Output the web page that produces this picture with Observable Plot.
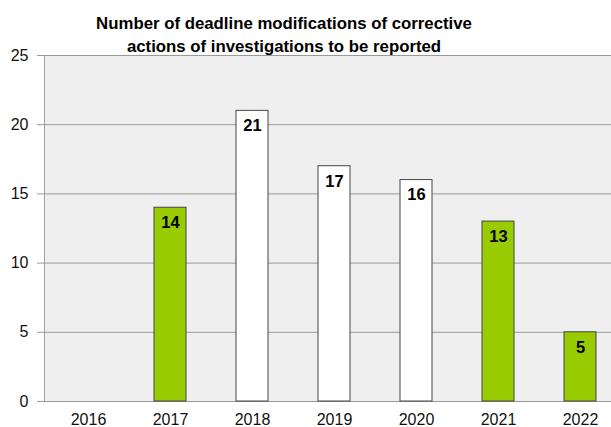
<!DOCTYPE html>
<html>
<head>
<meta charset="utf-8">
<script src="https://cdn.jsdelivr.net/npm/d3@7"></script>
<script src="https://cdn.jsdelivr.net/npm/@observablehq/plot@0.6"></script>
<style>
  html, body { margin: 0; padding: 0; background: #fff; overflow: hidden; }
  #wrap { position: relative; width: 611px; height: 427px; }
  #title {
    position: absolute; top: 12px; left: 0; width: 568px;
    text-align: center; font-family: "Liberation Sans", Arial, sans-serif;
    font-weight: bold; font-size: 16.8px; line-height: 23px; color: #000;
  }
  svg { font-family: "Liberation Sans", Arial, sans-serif; }
</style>
</head>
<body>
<div id="wrap">
  <div id="chart"></div>
  <div id="title">Number of deadline modifications of corrective<br>actions of investigations to be reported</div>
</div>
<script>
const years = ["2016", "2017", "2018", "2019", "2020", "2021", "2022"];
const values = [0, 14, 21, 17, 16, 13, 5];
const groups = ["A", "A", "B", "B", "B", "A", "A"];
const yTicks = [0, 5, 10, 15, 20, 25];

const data = years.map((year, i) => ({year, value: values[i], group: groups[i]}));
const shown = data.filter(d => d.value > 0);

const chart = Plot.plot({
  width: 611,
  height: 427,
  marginTop: 55,
  marginBottom: 26,
  marginLeft: 44,
  marginRight: 0,
  style: {fontFamily: "Liberation Sans, Arial, sans-serif", fontSize: "16px", color: "#111", background: "transparent"},
  x: {type: "band", domain: years, range: [44, 624], paddingInner: 0.615, paddingOuter: 0.3075, label: null},
  y: {domain: [0, 25], label: null},
  color: {type: "ordinal", domain: ["A", "B"], range: ["#99cc00", "#ffffff"]},
  marks: [
    Plot.frame({fill: "#efefef", stroke: "#a0a0a0", insetRight: -3}),
    Plot.gridY(yTicks, {stroke: "#999", strokeOpacity: 1}),
    Plot.axisY(yTicks, {tickSize: 7, tickPadding: 9, stroke: "#999", fill: "#111", fontSize: 16, label: null}),
    Plot.axisX({tickSize: 0, tickPadding: 12, fill: "#111", fontSize: 16, label: null}),
    Plot.barY(shown, {x: "year", y: "value", fill: "group", stroke: "#444", strokeWidth: 1}),
    Plot.text(shown, {x: "year", y: "value", text: d => String(d.value), dy: 15, fontWeight: "bold", fontSize: 16.5, fill: "#000"})
  ]
});
document.getElementById("chart").appendChild(chart);
</script>
</body>
</html>
